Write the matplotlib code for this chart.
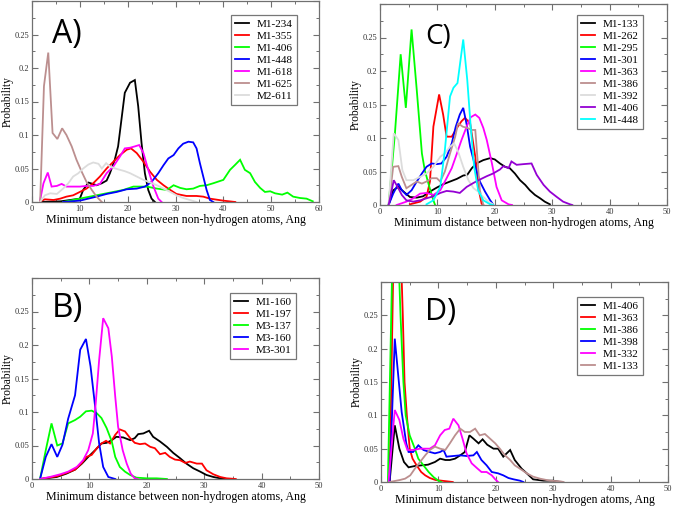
import matplotlib
matplotlib.use("Agg")
import matplotlib.pyplot as plt
from matplotlib.ticker import MultipleLocator, FixedLocator

# ---------------- Panel A ----------------
A_M1_234_x = [1.7, 6, 10, 10.7, 11.8, 12.7, 13.5, 14.6, 15.6, 16.3, 17.3, 18, 18.7, 19.4, 20.5, 21.5, 22.2, 22.9, 23.6, 24.3, 25, 25.7]
A_M1_234_y = [0, 0.001, 0.005, 0.018, 0.029, 0.027, 0.025, 0.028, 0.032, 0.043, 0.063, 0.083, 0.123, 0.163, 0.178, 0.182, 0.143, 0.088, 0.043, 0.018, 0.005, 0]
A_M1_355_x = [1.7, 2.7, 4.5, 5.9, 7.2, 8.6, 10, 11.4, 12.8, 14.2, 15.6, 17, 18.4, 19.8, 20.7, 21.9, 23.3, 24.7, 26.1, 27.5, 28.9, 30.2, 32.3, 34.4, 35.8, 37.2, 40, 42.5]
A_M1_355_y = [0.001, 0.004, 0.003, 0.005, 0.008, 0.01, 0.015, 0.02, 0.028, 0.038, 0.05, 0.06, 0.07, 0.078, 0.08, 0.073, 0.06, 0.045, 0.033, 0.025, 0.018, 0.012, 0.009, 0.009, 0.008, 0.005, 0.002, 0]
A_M1_406_x = [6.5, 10, 13.5, 16.3, 19.1, 21.2, 22.6, 24, 26.1, 28.2, 29.6, 31, 32.3, 33.7, 35.1, 36.5, 37.9, 40, 41.4, 42.4, 43.5, 44.5, 45.6, 46.6, 47.7, 48.7, 49.8, 50.8, 52.3, 53.4, 54.6, 56, 57.4, 58.7]
A_M1_406_y = [0, 0.005, 0.01, 0.014, 0.018, 0.023, 0.023, 0.023, 0.02, 0.018, 0.025, 0.021, 0.019, 0.02, 0.024, 0.025, 0.028, 0.033, 0.048, 0.055, 0.063, 0.048, 0.043, 0.03, 0.021, 0.015, 0.016, 0.013, 0.011, 0.014, 0.008, 0.006, 0.005, 0.001]
A_M1_448_x = [6.5, 10, 13.5, 15.6, 17.7, 19.8, 21.9, 23.6, 25, 26.4, 27.5, 28.5, 29.6, 30.6, 31.6, 32.7, 33.7, 34.4, 35.1, 35.8, 36.5, 37.2, 37.9]
A_M1_448_y = [0, 0.002, 0.008, 0.012, 0.015, 0.019, 0.02, 0.023, 0.03, 0.043, 0.055, 0.065, 0.07, 0.08, 0.087, 0.09, 0.089, 0.08, 0.058, 0.038, 0.018, 0.003, 0]
A_M1_618_x = [1.7, 2.4, 3.3, 4.1, 5.2, 6.2, 7.2, 8.6, 10, 11.4, 12.8, 14.2, 15.6, 17, 18.4, 19.4, 20.5, 21.5, 22.4, 23.3, 24.3, 25.4, 26.4, 27.1]
A_M1_618_y = [0.003, 0.028, 0.044, 0.023, 0.024, 0.027, 0.023, 0.023, 0.023, 0.024, 0.024, 0.027, 0.043, 0.053, 0.068, 0.08, 0.081, 0.083, 0.085, 0.073, 0.048, 0.023, 0.005, 0]
A_M1_625_x = [1.7, 2.5, 3.4, 4.3, 5.3, 6.3, 7.2, 8.3, 9.3, 10.4, 11.4, 12.5, 13.5, 14.6]
A_M1_625_y = [0, 0.173, 0.223, 0.103, 0.094, 0.11, 0.1, 0.083, 0.063, 0.045, 0.03, 0.018, 0.008, 0]
A_M2_611_x = [1.7, 2.7, 3.8, 5.2, 6.5, 7.6, 8.6, 9.7, 10.7, 11.8, 12.8, 13.9, 14.6, 15.5, 16.3, 17.4, 18.4, 19.4, 20.5, 21.9, 23.3, 24.7, 26.1, 27.5, 28.9, 30.2, 31.6, 33, 34.4]
A_M2_611_y = [0, 0.01, 0.013, 0.012, 0.02, 0.028, 0.038, 0.043, 0.05, 0.056, 0.059, 0.057, 0.05, 0.058, 0.053, 0.05, 0.048, 0.046, 0.043, 0.038, 0.033, 0.029, 0.025, 0.02, 0.015, 0.01, 0.006, 0.003, 0]

# ---------------- Panel B ----------------
B_M1_160_x = [1.4, 4.3, 6, 7.5, 8.7, 9.8, 11, 12.1, 13, 13.9, 14.7, 15.9, 17.1, 17.9, 18.5, 19.4, 20.4, 21.1, 22.3, 23.5, 24.6, 25.8, 26.9, 28.1, 29.3, 30.4, 31.6, 32.8, 34]
B_M1_160_y = [0, 0.003, 0.008, 0.014, 0.023, 0.033, 0.043, 0.053, 0.054, 0.058, 0.063, 0.062, 0.058, 0.061, 0.067, 0.068, 0.072, 0.063, 0.056, 0.048, 0.039, 0.031, 0.023, 0.016, 0.011, 0.006, 0.003, 0.001, 0]
B_M1_197_x = [1.4, 4.3, 6, 7.5, 8.7, 9.5, 10.4, 11.3, 12.1, 12.9, 13.6, 14.5, 15.3, 16.2, 17.1, 17.9, 18.8, 19.7, 20.6, 21.4, 22.3, 23.2, 24, 24.9, 25.8, 26.7, 27.5, 28.7, 29.6, 30.4, 31.6, 32.8, 33.9, 35.5]
B_M1_197_y = [0, 0.004, 0.009, 0.014, 0.024, 0.033, 0.036, 0.046, 0.053, 0.057, 0.053, 0.066, 0.074, 0.071, 0.061, 0.054, 0.052, 0.053, 0.048, 0.046, 0.037, 0.039, 0.033, 0.029, 0.028, 0.024, 0.026, 0.023, 0.023, 0.013, 0.007, 0.003, 0.001, 0]
B_M3_137_x = [1.4, 2.4, 3.4, 4.4, 5.3, 6.3, 7.5, 8.4, 9.4, 10.4, 11.3, 12.1, 13, 13.9, 14.5, 15.3, 16.2, 17.1, 18.2, 20, 21.7, 23.5]
B_M3_137_y = [0, 0.043, 0.083, 0.05, 0.053, 0.083, 0.088, 0.093, 0.101, 0.102, 0.098, 0.091, 0.076, 0.056, 0.033, 0.018, 0.011, 0.006, 0.002, 0.001, 0.001, 0]
B_M3_160_x = [1.4, 2.4, 3.4, 4.4, 5.3, 6.3, 7.5, 8.4, 9.4, 10.2, 11, 11.7, 12.4, 13.3, 14.5]
B_M3_160_y = [0, 0.033, 0.052, 0.033, 0.051, 0.09, 0.125, 0.193, 0.209, 0.168, 0.108, 0.053, 0.018, 0.003, 0]
B_M3_301_x = [1.4, 3.1, 4.9, 6.3, 7.8, 8.9, 9.8, 10.6, 11.1, 11.7, 12.4, 13.3, 13.9, 14.5, 15, 15.8, 16.5, 17.2, 17.9, 18.4]
B_M3_301_y = [0, 0.003, 0.007, 0.011, 0.018, 0.028, 0.043, 0.068, 0.113, 0.178, 0.24, 0.225, 0.183, 0.123, 0.078, 0.043, 0.023, 0.008, 0.001, 0]

# ---------------- Panel C ----------------
C_M1_133_x = [1.5, 2.3, 3.2, 4.1, 5.2, 6.4, 7.5, 8.7, 9.9, 11, 12.2, 13.4, 14.5, 15.2, 16, 16.8, 18, 19.2, 20, 20.9, 21.8, 22.6, 23.5, 24.4, 25.3, 26.1, 27, 27.9, 28.7, 29.6]
C_M1_133_y = [0, 0.022, 0.027, 0.02, 0.012, 0.011, 0.013, 0.02, 0.026, 0.031, 0.035, 0.039, 0.044, 0.045, 0.055, 0.062, 0.067, 0.07, 0.068, 0.062, 0.057, 0.055, 0.047, 0.037, 0.03, 0.022, 0.015, 0.01, 0.005, 0.001]
C_M1_262_x = [5.2, 7, 8.1, 8.7, 9.3, 10.3, 11, 11.6, 12.5, 13.4, 14.2, 14.8, 15.7, 16.6, 17.1, 17.7, 18]
C_M1_262_y = [0.001, 0.005, 0.012, 0.035, 0.117, 0.165, 0.135, 0.102, 0.102, 0.115, 0.125, 0.13, 0.122, 0.072, 0.027, 0.002, 0]
C_M1_295_x = [1.5, 2.6, 3.6, 4.5, 5.5, 6.4, 7.3, 7.8, 8.6, 9.3, 9.6]
C_M1_295_y = [0, 0.107, 0.225, 0.145, 0.262, 0.172, 0.077, 0.052, 0.027, 0.007, 0]
C_M1_301_x = [1.5, 2.3, 3.2, 3.8, 4.6, 5.5, 6.4, 7.3, 8.1, 9, 9.9, 10.7, 11.6, 12.5, 13.2, 13.9, 14.5, 15.1, 15.7, 16.6, 17.4, 18.3, 19.2, 19.7]
C_M1_301_y = [0, 0.017, 0.032, 0.022, 0.015, 0.022, 0.035, 0.047, 0.057, 0.062, 0.061, 0.062, 0.072, 0.092, 0.117, 0.135, 0.145, 0.12, 0.087, 0.057, 0.035, 0.02, 0.007, 0.001]
C_M1_363_x = [2.9, 4.6, 5.8, 7, 8.1, 9.3, 10.5, 11.6, 12.5, 13.4, 14.2, 15.1, 15.8, 16.6, 17.3, 18, 18.6, 19.5, 20.3, 21.2, 22.4, 23]
C_M1_363_y = [0, 0.005, 0.01, 0.017, 0.018, 0.015, 0.022, 0.04, 0.055, 0.077, 0.097, 0.117, 0.131, 0.135, 0.13, 0.115, 0.097, 0.062, 0.027, 0.007, 0.001, 0]
C_M1_386_x = [1.5, 2.3, 3.2, 3.8, 4.6, 5.5, 6.4, 7.3, 8.1, 9, 9.9, 10.5, 11.3, 12.2, 13.1, 13.6, 14.4, 15.2, 16, 16.6, 17, 17.4, 18]
C_M1_386_y = [0, 0.057, 0.058, 0.042, 0.025, 0.03, 0.035, 0.032, 0.035, 0.04, 0.04, 0.035, 0.05, 0.077, 0.102, 0.122, 0.117, 0.115, 0.112, 0.112, 0.067, 0.022, 0]
C_M1_392_x = [1.5, 2.4, 3.2, 3.9, 4.6, 5.8, 7, 8.1, 9.3, 10.5, 11.3, 12.2, 12.9, 13.6, 14.5, 15.4, 16.3, 17.1, 18, 18.9, 19.7]
C_M1_392_y = [0, 0.107, 0.097, 0.052, 0.037, 0.037, 0.042, 0.047, 0.057, 0.072, 0.077, 0.087, 0.092, 0.08, 0.057, 0.037, 0.025, 0.02, 0.012, 0.005, 0.001]
C_M1_406_x = [1.5, 2.4, 3.2, 3.8, 4.6, 5.8, 7, 8.1, 9.3, 10.5, 11.6, 12.8, 13.9, 15.1, 16.3, 17.4, 18.6, 19.7, 20.9, 21.5, 22.4, 22.9, 23.8, 25, 26.4, 27.3, 28.5, 29.6, 30.8, 31.9, 33.1, 33.5]
C_M1_406_y = [0, 0.037, 0.025, 0.015, 0.007, 0.005, 0.007, 0.01, 0.013, 0.018, 0.021, 0.02, 0.018, 0.027, 0.033, 0.038, 0.043, 0.047, 0.053, 0.058, 0.055, 0.065, 0.06, 0.061, 0.062, 0.045, 0.03, 0.02, 0.012, 0.005, 0.001, 0]
C_M1_448_x = [8.1, 9.3, 10.5, 11.3, 12.2, 12.8, 13.5, 14.5, 15.2, 15.8, 16.4, 17.1, 18, 19.2, 19.7]
C_M1_448_y = [0.001, 0.007, 0.027, 0.082, 0.162, 0.175, 0.182, 0.247, 0.187, 0.117, 0.057, 0.022, 0.007, 0.001, 0]

# ---------------- Panel D ----------------
D_M1_406_x = [1.5, 2.4, 3.2, 4, 4.8, 5.9, 7.1, 8.2, 9.4, 10.3, 11.2, 12, 12.9, 13.8, 14.6, 15.4, 16.1, 17, 17.7, 18.5, 19.6, 20.4, 21.3, 22.5, 23.3, 24.5, 25.4, 26.5, 28.3, 30, 31.2]
D_M1_406_y = [0, 0.085, 0.05, 0.03, 0.022, 0.024, 0.025, 0.026, 0.03, 0.035, 0.033, 0.033, 0.035, 0.04, 0.045, 0.07, 0.065, 0.058, 0.064, 0.056, 0.05, 0.05, 0.038, 0.048, 0.033, 0.02, 0.013, 0.004, 0.002, 0.002, 0]
D_M1_363_x = [1.5, 2.2, 2.8, 3.4, 3.8, 4.1, 4.5, 5.0, 5.5, 6.2, 7.0, 7.7, 8.5, 9.5, 10.5, 11.5, 12.5]
D_M1_363_y = [0, 0.35, 0.5, 0.36, 0.25, 0.15, 0.1, 0.05, 0.035, 0.025, 0.015, 0.01, 0.006, 0.003, 0.002, 0.001, 0]
D_M1_386_x = [1.2, 1.9, 2.4, 3.0, 3.4, 3.9, 4.3, 5.0, 5.9, 6.5, 7.4, 8.3, 9.2, 10, 10.5]
D_M1_386_y = [0, 0.3, 0.5, 0.35, 0.25, 0.15, 0.1, 0.07, 0.05, 0.035, 0.025, 0.015, 0.007, 0.002, 0]
D_M1_398_x = [1.5, 2.4, 3, 3.6, 4.4, 4.8, 5.6, 6.5, 7.4, 8.5, 9.4, 10.3, 10.9, 11.4, 12.6, 13.8, 14.9, 16.1, 16.7, 17.5, 18.4, 19.3, 20.4, 21.3, 22.2, 23.1, 24.2, 24.8]
D_M1_398_y = [0, 0.215, 0.16, 0.105, 0.058, 0.045, 0.045, 0.055, 0.048, 0.045, 0.043, 0.045, 0.048, 0.038, 0.039, 0.04, 0.039, 0.04, 0.045, 0.033, 0.025, 0.015, 0.013, 0.01, 0.006, 0.004, 0.002, 0]
D_M1_332_x = [1.3, 2.4, 3.2, 3.9, 4.6, 5.6, 6.8, 7.7, 8.5, 9.4, 10.3, 11.1, 11.9, 12.6, 13.5, 14.2, 14.9, 15.8, 16.7, 17.5, 18.4, 19.3, 19.9, 20.4]
D_M1_332_y = [0, 0.108, 0.093, 0.065, 0.048, 0.048, 0.05, 0.05, 0.05, 0.055, 0.07, 0.078, 0.08, 0.095, 0.085, 0.065, 0.043, 0.028, 0.021, 0.015, 0.015, 0.01, 0.004, 0]
D_M1_133_x = [1.5, 3.3, 4.2, 5.1, 5.9, 6.8, 7.7, 8.5, 9.4, 10.3, 11.2, 12, 12.9, 13.8, 14.6, 15.5, 16.4, 17.2, 18.1, 19, 19.9, 20.7, 21.6, 22.5, 23.3, 24.2, 25.4, 26.5, 27.7, 29.4, 31.2, 31.8]
D_M1_133_y = [0, 0.003, 0.005, 0.01, 0.02, 0.03, 0.04, 0.048, 0.053, 0.05, 0.048, 0.058, 0.07, 0.08, 0.075, 0.075, 0.08, 0.07, 0.072, 0.065, 0.058, 0.05, 0.04, 0.033, 0.025, 0.02, 0.013, 0.008, 0.005, 0.002, 0.001, 0]

# ---------------- Colours (xmgrace palette) ----------------
BLACK = "#000000"
RED = "#ff0000"
GREEN = "#00ff00"
BLUE = "#0000ff"
MAGENTA = "#ff00ff"
BROWN = "#bc8f8f"
GREY = "#dcdcdc"
VIOLET = "#9400d3"
CYAN = "#00ffff"

panel_A = [("M1-234", BLACK, A_M1_234_x, A_M1_234_y),
           ("M1-355", RED, A_M1_355_x, A_M1_355_y),
           ("M1-406", GREEN, A_M1_406_x, A_M1_406_y),
           ("M1-448", BLUE, A_M1_448_x, A_M1_448_y),
           ("M1-618", MAGENTA, A_M1_618_x, A_M1_618_y),
           ("M1-625", BROWN, A_M1_625_x, A_M1_625_y),
           ("M2-611", GREY, A_M2_611_x, A_M2_611_y)]
panel_B = [("M1-160", BLACK, B_M1_160_x, B_M1_160_y),
           ("M1-197", RED, B_M1_197_x, B_M1_197_y),
           ("M3-137", GREEN, B_M3_137_x, B_M3_137_y),
           ("M3-160", BLUE, B_M3_160_x, B_M3_160_y),
           ("M3-301", MAGENTA, B_M3_301_x, B_M3_301_y)]
panel_C = [("M1-133", BLACK, C_M1_133_x, C_M1_133_y),
           ("M1-262", RED, C_M1_262_x, C_M1_262_y),
           ("M1-295", GREEN, C_M1_295_x, C_M1_295_y),
           ("M1-301", BLUE, C_M1_301_x, C_M1_301_y),
           ("M1-363", MAGENTA, C_M1_363_x, C_M1_363_y),
           ("M1-386", BROWN, C_M1_386_x, C_M1_386_y),
           ("M1-392", GREY, C_M1_392_x, C_M1_392_y),
           ("M1-406", VIOLET, C_M1_406_x, C_M1_406_y),
           ("M1-448", CYAN, C_M1_448_x, C_M1_448_y)]
panel_D = [("M1-406", BLACK, D_M1_406_x, D_M1_406_y),
           ("M1-363", RED, D_M1_363_x, D_M1_363_y),
           ("M1-386", GREEN, D_M1_386_x, D_M1_386_y),
           ("M1-398", BLUE, D_M1_398_x, D_M1_398_y),
           ("M1-332", MAGENTA, D_M1_332_x, D_M1_332_y),
           ("M1-133", BROWN, D_M1_133_x, D_M1_133_y)]

y_ticks = [0, 0.05, 0.1, 0.15, 0.2, 0.25]
y_ticklabels = ["0", "0.05", "0.1", "0.15", "0.2", "0.25"]
xlabel_text = "Minimum distance between non-hydrogen atoms, Ang"
ylabel_text = "Probability"

SERIF = ["Liberation Serif", "DejaVu Serif"]
W, H = 675, 507
fig = plt.figure(figsize=(W / 100, H / 100), dpi=100)
SPINE = "#707070"


def px_axes(left, top, right, bottom):
    return fig.add_axes([left / W, 1 - bottom / H, (right - left) / W, (bottom - top) / H])


def setup(ax, series, xmax, letter, letter_pos, letter_size, leg_anchor):
    for label, color, xs, ys in series:
        ax.plot(xs, ys, color=color, lw=1.3, label=label, solid_joinstyle="miter")
    ax.set_xlim(0, xmax)
    ax.set_ylim(0, 0.3)
    ax.xaxis.set_major_locator(MultipleLocator(10))
    ax.xaxis.set_minor_locator(MultipleLocator(5))
    ax.yaxis.set_major_locator(FixedLocator(y_ticks + [0.3]))
    ax.yaxis.set_minor_locator(MultipleLocator(0.025))
    ax.set_yticklabels(y_ticklabels + [""])
    for s in ax.spines.values():
        s.set_color(SPINE)
        s.set_linewidth(0.9)
    ax.tick_params(which="both", direction="in", top=True, right=True, color=SPINE,
                   labelsize=6, labelcolor="#333333", pad=2)
    ax.tick_params(which="major", length=4, width=0.8)
    ax.tick_params(which="minor", length=2, width=0.7)
    for t in ax.get_xticklabels() + ax.get_yticklabels():
        t.set_family(SERIF)
    ax.set_xlabel(xlabel_text, family=SERIF, fontsize=8.6, labelpad=1)
    ax.set_ylabel(ylabel_text, family=SERIF, fontsize=8.3)
    # right edge of the rotated label sits ~19 px left of the axis
    ax.yaxis.set_label_coords(-0.064, 0.5)
    ax.text(letter_pos[0], letter_pos[1], letter, transform=ax.transAxes,
            family=["Open Sans", "DejaVu Sans"], fontsize=letter_size, va="baseline", ha="left")
    leg = ax.legend(loc="upper right", bbox_to_anchor=leg_anchor, frameon=True, fancybox=False,
                    prop={"family": SERIF, "size": 8}, handlelength=1.3, handletextpad=0.7,
                    labelspacing=0.2, borderpad=0.35, borderaxespad=0)
    leg.get_frame().set_edgecolor("#555555")
    leg.get_frame().set_linewidth(0.9)


axA = px_axes(32, 1, 319, 202)
setup(axA, panel_A, 60, "A)", (0.07, 0.79), 23, (0.923, 0.93))
axC = px_axes(380, 4, 667, 205)
setup(axC, panel_C, 50, "C)", (0.157, 0.80), 20, (0.916, 0.945))
axB = px_axes(32, 278, 319, 479)
setup(axB, panel_B, 50, "B)", (0.07, 0.806), 24, (0.92, 0.925))
axD = px_axes(381, 282, 668, 482)
setup(axD, panel_D, 50, "D)", (0.153, 0.81), 22, (0.913, 0.925))

fig.savefig("out.png", dpi=100)
